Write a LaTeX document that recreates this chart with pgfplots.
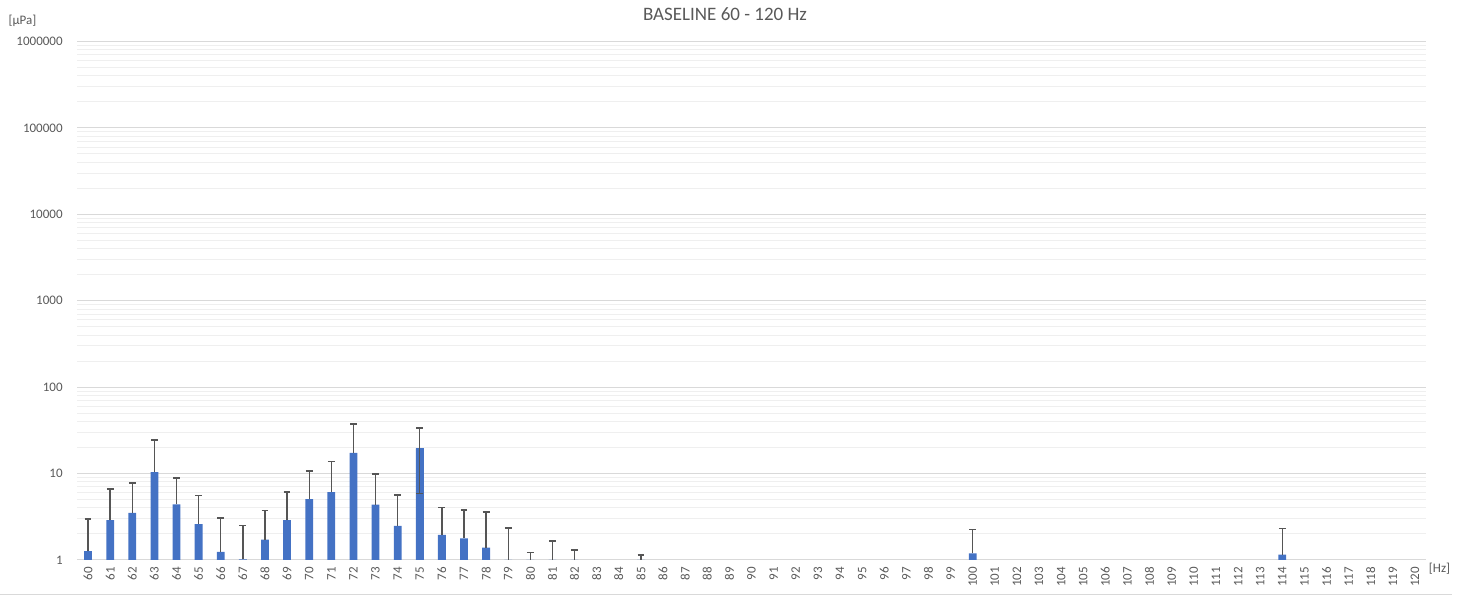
\documentclass[border=0pt]{standalone}
\usepackage{fontspec}
\setmainfont{Carlito}
\usepackage{pgfplots}
\pgfplotsset{compat=1.18}
\definecolor{barblue}{HTML}{4472C4}
\definecolor{txtgray}{HTML}{595959}
\definecolor{majgrid}{HTML}{D9D9D9}
\definecolor{mingrid}{HTML}{EFEFEF}
\definecolor{errgray}{HTML}{555555}

\begin{document}
\begin{tikzpicture}[x=1pt,y=1pt]
\useasboundingbox (-38.5,-18.5) rectangle (696.5,280);
\begin{axis}[
    at={(0,0)}, anchor=south west,
    scale only axis, width=674.5pt, height=259.2pt,
    ymode=log, ymin=1, ymax=1000000,
    xmin=59.5, xmax=120.5,
    xtick={60,...,120},
    ytick={1,10,100,1000,10000,100000,1000000},
    yticklabels={1,10,100,1000,10000,100000,1000000},
    /pgf/number format/assume math mode=true,
    ybar, bar width=3.9pt, bar shift=0pt,
    ymajorgrids, yminorgrids,
    major grid style={majgrid, line width=0.5pt},
    minor grid style={mingrid, line width=0.5pt},
    axis line style={draw=none},
    tick style={draw=none},
    major tick length=0pt, minor tick length=0pt,
    tick label style={font=\fontsize{6.5}{7}\selectfont, text=txtgray},
    yticklabel style={inner sep=0pt, xshift=-7pt},
    xticklabel style={rotate=90, anchor=east, inner sep=3.3pt},
]
\addplot[fill=barblue, draw=none,
    error bars/.cd, y dir=plus, y explicit,
    error bar style={draw=errgray, line width=0.7pt},
    error mark options={draw=errgray, rotate=90, mark size=1.7pt, line width=0.7pt}]
coordinates {
(60,1.27) +- (0,1.71)
(61,2.9) +- (0,3.7)
(62,3.5) +- (0,4.3)
(63,10.4) +- (0,14.0)
(64,4.4) +- (0,4.5)
(65,2.6) +- (0,3.0)
(66,1.24) +- (0,1.82)
(67,1.02) +- (0,1.47)
(68,1.72) +- (0,2.03)
(69,2.9) +- (0,3.2)
(70,5.07) +- (0,5.6)
(71,6.1) +- (0,7.7)
(72,17.4) +- (0,20.3)
(73,4.36) +- (0,5.5)
(74,2.49) +- (0,3.14)
(75,19.6) +- (0,14.2)
(76,1.95) +- (0,2.12)
(77,1.78) +- (0,2.0)
(78,1.39) +- (0,2.2)
(79,1) +- (0,1.34)
(80,1) +- (0,0.23)
(81,1) +- (0,0.66)
(82,1) +- (0,0.3)
(85,1) +- (0,0.14)
(100,1.19) +- (0,1.05)
(114,1.15) +- (0,1.17)
};
% lower error bar only where it stays above 1 (bar 75 redrawn under it)
\addplot[forget plot, fill=barblue, draw=none,
    error bars/.cd, y dir=minus, y explicit,
    error bar style={draw=errgray, line width=0.7pt},
    error mark options={draw=errgray, rotate=90, mark size=1.7pt, line width=0.7pt}]
coordinates {(75,19.6) +- (0,13.7)};
\end{axis}
\node[font=\fontsize{9.5}{11}\selectfont, text=txtgray] at (324,272.75) {BASELINE 60 - 120 Hz};
\node[font=\fontsize{6.5}{7}\selectfont, text=txtgray] at (-27.25,269.5) {[µPa]};
\node[font=\fontsize{6.5}{7}\selectfont, text=txtgray] at (681.25,-4.5) {[Hz]};
\draw[majgrid, line width=0.5pt] (-38.5,-17.5) -- (687.5,-17.5);
\end{tikzpicture}
\end{document}
